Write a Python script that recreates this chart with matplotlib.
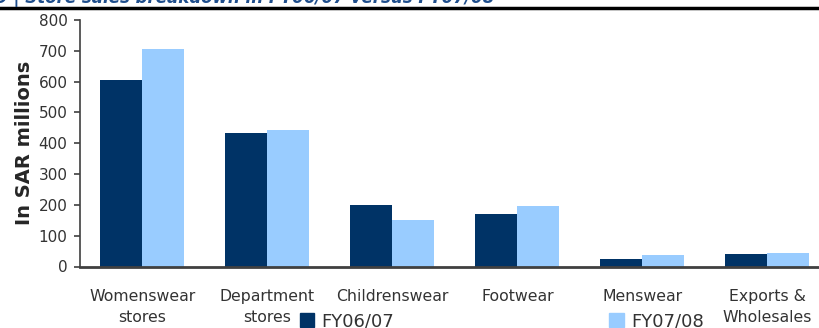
import matplotlib

matplotlib.use("Agg")

import matplotlib.pyplot as plt
import numpy as np
from matplotlib.patches import Patch

categories = ["Womenswear\nstores", "Department\nstores", "Childrenswear", "Footwear", "Menswear", "Exports &\nWholesales"]
fy0607 = [605, 433, 200, 170, 24, 40]
fy0708 = [706, 443, 151, 196, 37, 43]
series_names = ["FY06/07", "FY07/08"]
yticks = [0, 100, 200, 300, 400, 500, 600, 700, 800]

DARK = "#003366"
LIGHT = "#99CCFF"
TEXT = "#333333"

fig = plt.figure(figsize=(8.2, 3.28), dpi=100)
ax = fig.add_axes([80 / 820, 1 - 266.5 / 328, 750 / 820, 246.5 / 328])

x = np.arange(len(categories))
w = 0.336
ax.bar(x - w / 2, fy0607, width=w, color=DARK, label=series_names[0])
ax.bar(x + w / 2, fy0708, width=w, color=LIGHT, label=series_names[1])

ax.set_xlim(-0.5, len(categories) - 0.5)
ax.set_ylim(0, 800)
ax.set_yticks(yticks)
ax.set_xticks(x)
ax.set_xticklabels(categories, fontsize=11.3, color=TEXT, linespacing=1.5)
ax.tick_params(axis="x", length=0, pad=16)
ax.tick_params(axis="y", labelsize=11, labelcolor=TEXT, color="#404040", length=4, width=1.2, direction="out", pad=5)
ax.set_ylabel("In SAR millions", fontsize=14, fontweight="bold", color="#262626", labelpad=3)

for side in ("top", "right"):
    ax.spines[side].set_visible(False)
ax.spines["left"].set_color("#404040")
ax.spines["left"].set_linewidth(1.2)
ax.spines["bottom"].set_color("#404040")
ax.spines["bottom"].set_linewidth(2)

handles = [Patch(color=DARK), Patch(color=LIGHT)]
fig.legend(handles, series_names, loc="center left", bbox_to_anchor=(300 / 820, 1 - 321 / 328),
           ncol=2, frameon=False, fontsize=13, handlelength=0.8, handleheight=0.8,
           handletextpad=0.4, columnspacing=11.9, labelcolor=TEXT, borderaxespad=0, borderpad=0)

# header: clipped title and rule
fig.text(-0.005, 1 + 2 / 328, "9 | Store sales breakdown in FY06/07 versus FY07/08", fontsize=12,
         fontweight="bold", fontstyle="italic", color="#1F4E8C", va="center", ha="left")
fig.add_artist(plt.Line2D([0, 1], [1 - 8 / 328, 1 - 8 / 328], color="black", lw=2.5))

fig.savefig("out.png", dpi=100, facecolor="white")
